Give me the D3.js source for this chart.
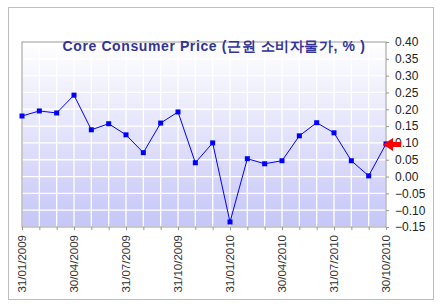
<!DOCTYPE html>
<html>
<head>
<meta charset="utf-8">
<script src="https://cdn.jsdelivr.net/npm/d3@7"></script>
<style>
  body { margin: 0; background: #fff; }
  text { font-family: "Liberation Sans", Arial, sans-serif; }
</style>
</head>
<body>
<div id="chart"></div>
<script>
(function () {

  var dates = ['31/01/2009', '28/02/2009', '31/03/2009', '30/04/2009', '31/05/2009', '30/06/2009',
    '31/07/2009', '31/08/2009', '30/09/2009', '31/10/2009', '30/11/2009', '31/12/2009',
    '31/01/2010', '28/02/2010', '31/03/2010', '30/04/2010', '31/05/2010', '30/06/2010',
    '31/07/2010', '31/08/2010', '30/09/2010', '30/10/2010']

  var values = [0.18, 0.195, 0.189, 0.242, 0.139, 0.157, 0.124, 0.071, 0.159, 0.192, 0.041, 0.10,
    -0.135, 0.053, 0.038, 0.047, 0.121, 0.16, 0.13, 0.047, 0.002, 0.097]

  var yTicks = [-0.15, -0.10, -0.05, 0, 0.05, 0.10, 0.15, 0.20, 0.25, 0.30, 0.35, 0.40]
  var xLabels = ['31/01/2009', '30/04/2009', '31/07/2009', '31/10/2009',
    '31/01/2010', '30/04/2010', '31/07/2010', '30/10/2010']

  var title = 'Core Consumer Price (근원 소비자물가, % )'

  var margin = { top: 42, left: 22, right: 59, bottom: 81 },
      width = 445 - margin.left - margin.right,
      height = 308 - margin.top - margin.bottom

  var root = d3.select("#chart")
    .append("svg")
    .attr("width", 445)
    .attr("height", 308)

  // outer frame
  root.append("rect")
    .attr("x", 8.5).attr("y", 7.5)
    .attr("width", 425).attr("height", 292)
    .attr("fill", "white")
    .attr("stroke", "#bdbdbd")

  var defs = root.append("defs")
  var grad = defs.append("linearGradient")
    .attr("id", "bg")
    .attr("x1", 0).attr("y1", 0).attr("x2", 0).attr("y2", 1)
  grad.append("stop").attr("offset", "0%").attr("stop-color", "#ffffff")
  grad.append("stop").attr("offset", "100%").attr("stop-color", "#c6c6f8")

  var svg = root.append("g")
    .attr("transform", "translate(" + margin.left + "," + margin.top + ")")

  var xPositionScale = d3.scalePoint()
    .domain(dates)
    .range([0, width])

  var yPositionScale = d3.scaleLinear()
    .domain([-0.15, 0.40])
    .range([height, 0])

  svg.append("rect")
    .attr("width", width)
    .attr("height", height)
    .attr("fill", "url(#bg)")

  // grid
  svg.selectAll(".vgrid")
    .data(dates)
    .enter().append("line")
    .attr("class", "vgrid")
    .attr("x1", function(d) { return xPositionScale(d) })
    .attr("x2", function(d) { return xPositionScale(d) })
    .attr("y1", 0).attr("y2", height)
    .attr("stroke", "white")
    .attr("stroke-width", 1.3)

  svg.selectAll(".hgrid")
    .data(yTicks)
    .enter().append("line")
    .attr("class", "hgrid")
    .attr("x1", 0).attr("x2", width)
    .attr("y1", function(d) { return yPositionScale(d) })
    .attr("y2", function(d) { return yPositionScale(d) })
    .attr("stroke", "white")
    .attr("stroke-width", 1.3)

  svg.append("rect")
    .attr("width", width)
    .attr("height", height)
    .attr("fill", "none")
    .attr("stroke", "#999")

  var yAxis = d3.axisRight(yPositionScale)
    .tickValues(yTicks)
    .tickSize(3)
    .tickPadding(6)
    .tickFormat(d3.format(".2f"))
  var ya = svg.append("g")
    .attr("class", "axis y-axis")
    .attr("transform", "translate(" + width + ",0)")
    .call(yAxis)
  ya.select(".domain").remove()
  ya.selectAll(".tick line").attr("stroke", "#999")
  ya.selectAll(".tick text")
    .attr("font-size", 12)
    .attr("fill", "#222")
    .style("font-family", "'Liberation Sans', Arial, sans-serif")

  var xAxis = d3.axisBottom(xPositionScale)
    .tickSize(3)
    .tickFormat("")
  var xa = svg.append("g")
    .attr("class", "axis x-axis")
    .attr("transform", "translate(0," + height + ")")
    .call(xAxis)
  xa.select(".domain").remove()
  xa.selectAll(".tick line").attr("stroke", "#999")

  svg.selectAll(".xlabel")
    .data(xLabels)
    .enter().append("text")
    .attr("class", "xlabel")
    .attr("transform", function(d) {
      return "translate(" + (xPositionScale(d) + 4) + "," + (height + 8) + ") rotate(-90)"
    })
    .attr("text-anchor", "end")
    .attr("font-size", 11.5)
    .attr("fill", "#333")
    .text(function(d) { return d })

  var line = d3.line()
    .x(function(d, i) { return xPositionScale(dates[i]) })
    .y(function(d) { return yPositionScale(d) })

  svg.append("path")
    .datum(values)
    .attr("d", line)
    .attr("fill", "none")
    .attr("stroke", "#0000ff")
    .attr("stroke-width", 1)

  svg.selectAll(".pt")
    .data(values)
    .enter().append("rect")
    .attr("class", "pt")
    .attr("x", function(d, i) { return xPositionScale(dates[i]) - 2.5 })
    .attr("y", function(d) { return yPositionScale(d) - 2.5 })
    .attr("width", 5)
    .attr("height", 5)
    .attr("fill", "#0000ff")

  // red arrow at the latest value
  var last = values[values.length - 1]
  var ax = xPositionScale(dates[dates.length - 1]) - 3,
      ay = yPositionScale(last) + 0.5
  svg.append("path")
    .attr("d", "M" + ax + "," + ay + "l10,-6.5v4h8v5h-8v4z")
    .attr("fill", "#ff0000")

  svg.append("text")
    .attr("x", 192)
    .attr("y", 9)
    .attr("text-anchor", "middle")
    .attr("font-size", 14)
    .attr("font-weight", "bold")
    .attr("letter-spacing", 0.6)
    .attr("fill", "#333399")
    .text(title)

})()
</script>
</body>
</html>
